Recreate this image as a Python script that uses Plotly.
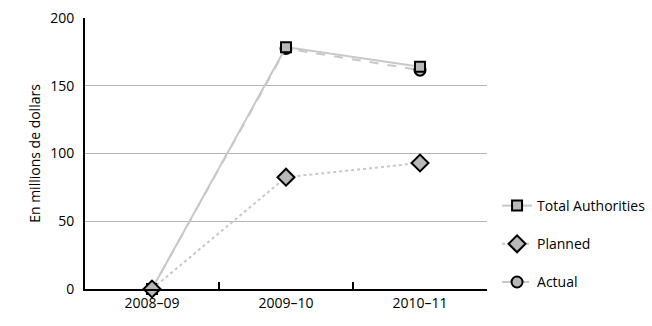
import plotly.graph_objects as go

categories = ["2008–09", "2009–10", "2010–11"]
total_authorities = [0, 178.5, 164]
planned = [0, 82.5, 93]
actual = [0, 177.5, 161.5]
y_ticks = [0, 50, 100, 150, 200]

FONT = "Open Sans, Liberation Sans, sans-serif"
fill = "#b8b8b8"
linec = "#c8c8c8"

fig = go.Figure()
fig.add_trace(go.Scatter(
    x=categories, y=actual, name="Actual", mode="lines+markers", cliponaxis=False,
    line=dict(color=linec, width=2, dash="dash"),
    marker=dict(symbol="circle", size=11, color=fill, line=dict(color="black", width=2)),
    legendrank=3, legendgroup="c"))
fig.add_trace(go.Scatter(
    x=categories, y=total_authorities, name="Total Authorities", mode="lines+markers",
    cliponaxis=False,
    line=dict(color=linec, width=2),
    marker=dict(symbol="square", size=10, color=fill, line=dict(color="black", width=2)),
    legendrank=1, legendgroup="a"))
fig.add_trace(go.Scatter(
    x=categories, y=planned, name="Planned", mode="lines+markers", cliponaxis=False,
    line=dict(color=linec, width=2, dash="dot"),
    marker=dict(symbol="diamond", size=13, color=fill, line=dict(color="black", width=2)),
    legendrank=2, legendgroup="b"))

fig.update_layout(
    width=652, height=326,
    margin=dict(l=85, r=165, t=18, b=37, autoexpand=False),
    plot_bgcolor="white", paper_bgcolor="white",
    font=dict(family=FONT, size=14, color="black"),
    legend=dict(x=1.025, y=0.166, xanchor="left", yanchor="middle",
                traceorder="grouped", tracegroupgap=17,
                font=dict(size=14), bgcolor="rgba(0,0,0,0)"),
    xaxis=dict(type="category", range=[-0.5, 2.5], showline=True, linecolor="black",
               linewidth=2, ticks="inside", tickson="boundaries", ticklen=7,
               tickwidth=2, tickcolor="black", showgrid=False, zeroline=False,
               tickfont=dict(size=14)),
    yaxis=dict(range=[0, 200], tickvals=y_ticks, showline=True, linecolor="black",
               linewidth=2, showgrid=True, gridcolor="#b5b5b5", gridwidth=1,
               zeroline=False, ticks="", ticklabelstandoff=6,
               title=dict(text="En millions de dollars", font=dict(size=14), standoff=6),
               tickfont=dict(size=14)),
)
fig.write_html("out.html")
